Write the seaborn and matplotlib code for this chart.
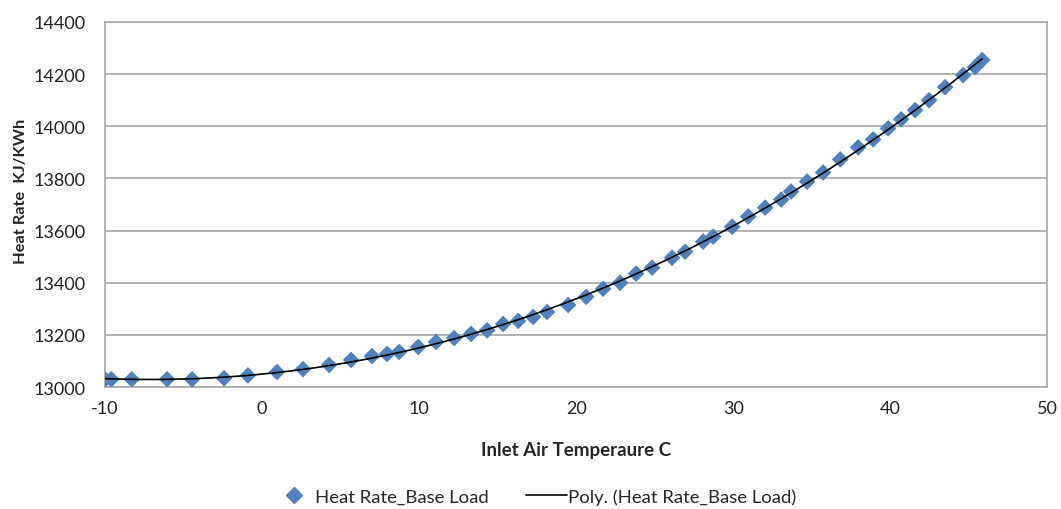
import numpy as np
import pandas as pd
import matplotlib
matplotlib.use("Agg")
import matplotlib.pyplot as plt
import seaborn as sns
from matplotlib.lines import Line2D

# ---- data ----
temperature_c = [-10.0, -9.6, -8.3, -6.05, -4.46, -2.42, -0.9, 0.95,
                 2.61, 4.27, 5.67, 7.0, 7.96, 8.73, 9.94, 11.08, 12.23, 13.31, 14.33,
                 15.35, 16.31, 17.26, 18.15, 19.49, 20.64, 21.72, 22.80, 23.82, 24.84, 26.11,
                 26.94, 28.09, 28.73, 29.94, 30.96, 32.04, 33.06, 33.69, 34.71, 35.73, 36.82,
                 37.96, 38.92, 39.87, 40.70, 41.59, 42.48, 43.50, 44.65, 45.41, 45.86]
heat_rate = [13030, 13030, 13030, 13030, 13030, 13034, 13045, 13058,
             13069, 13085, 13104, 13119, 13127, 13135, 13154, 13173, 13188, 13204, 13218,
             13242, 13254, 13269, 13288, 13315, 13346, 13377, 13400, 13435, 13458, 13496,
             13519, 13558, 13577, 13615, 13654, 13688, 13719, 13750, 13788, 13823, 13873,
             13919, 13950, 13992, 14027, 14062, 14100, 14150, 14196, 14227, 14254]
x_ticks = [-10, 0, 10, 20, 30, 40, 50]
y_ticks = [13000, 13200, 13400, 13600, 13800, 14000, 14200, 14400]
series_name = "Heat Rate_Base Load"
trend_name = "Poly. (Heat Rate_Base Load)"
x_label = "Inlet Air Temperaure C"
y_label = "Heat Rate  KJ/KWh"

df = pd.DataFrame({"x": temperature_c, "y": heat_rate})
coef = np.polyfit(df["x"], df["y"], 3)
xs = np.linspace(min(temperature_c), max(temperature_c), 200)
trend = pd.DataFrame({"x": xs, "y": np.polyval(coef, xs)})

sns.set_theme(style="white")
plt.rcParams["font.family"] = ["Lato", "DejaVu Sans"]

fig = plt.figure(figsize=(10.61, 5.10), dpi=100)
ax = fig.add_axes([0.099, 0.239, 0.888, 0.716])

blue = "#4F81BD"
sns.scatterplot(data=df, x="x", y="y", ax=ax, marker="D", s=72, color=blue,
                edgecolor="none", zorder=3, legend=False)
sns.lineplot(data=trend, x="x", y="y", ax=ax, color="black", linewidth=1.2,
             zorder=4, legend=False)

ax.set_xlim(-10, 50)
ax.set_ylim(13000, 14400)
ax.set_xticks(x_ticks)
ax.set_yticks(y_ticks)
ax.set_xticklabels([str(t) for t in x_ticks])
ax.set_yticklabels([str(t) for t in y_ticks])
ax.yaxis.grid(True, color="#a6a6a6", linewidth=1.2)
ax.xaxis.grid(False)
for s in ax.spines.values():
    s.set_color("#a6a6a6")
    s.set_linewidth(1.2)
ax.tick_params(axis="both", labelsize=13, colors="#222222", length=0)
ax.tick_params(axis="y", pad=14)
ax.tick_params(axis="x", pad=9)

ax.set_xlabel(x_label, fontsize=13.5, fontweight="bold", labelpad=18)
ax.set_ylabel(y_label, fontsize=11.8, fontweight="bold")
ax.yaxis.set_label_coords(-0.082, 0.54)

handles = [
    Line2D([], [], marker="D", color=blue, linestyle="none", markersize=8),
    Line2D([], [], color="black", linewidth=1.2),
]
fig.legend(handles, [series_name, trend_name], loc="center", bbox_to_anchor=(0.504, 0.025),
           ncol=2, frameon=False, fontsize=13.3, handlelength=2.2, columnspacing=2.0,
           handletextpad=0.05)

fig.savefig("out.png", dpi=100)
